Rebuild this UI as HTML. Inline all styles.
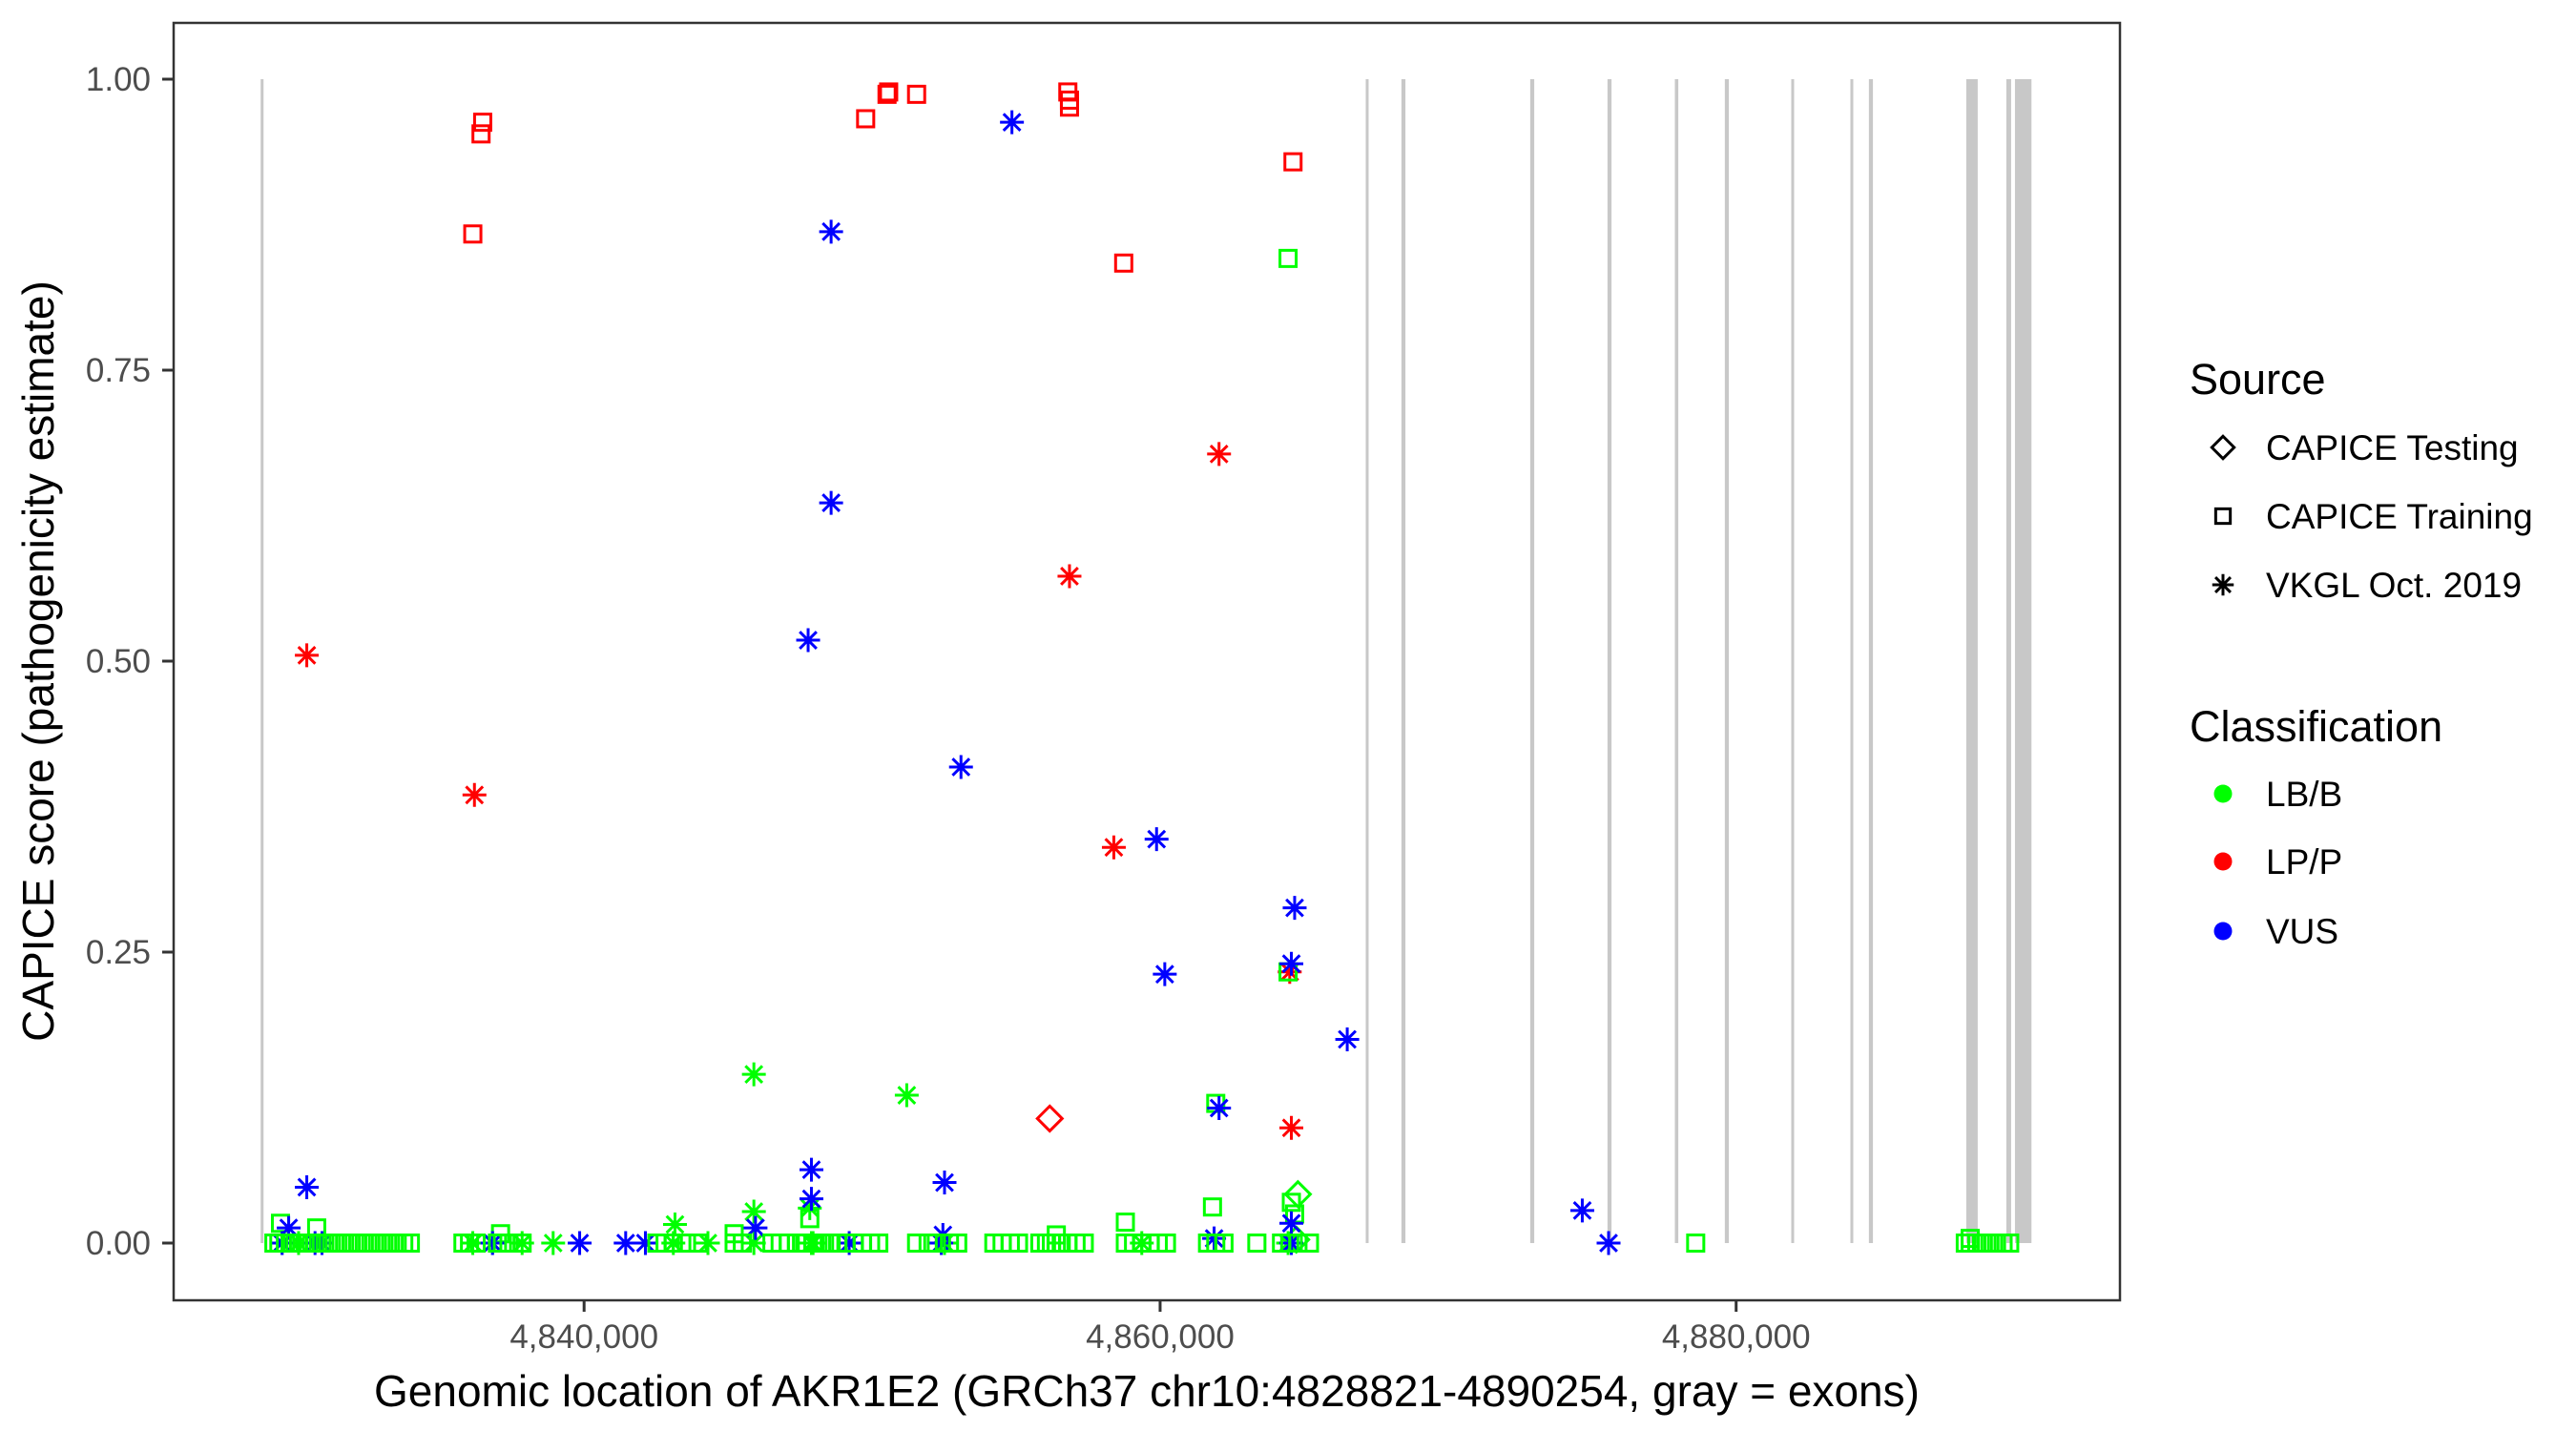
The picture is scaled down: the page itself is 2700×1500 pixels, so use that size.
<!DOCTYPE html>
<html><head><meta charset="utf-8"><style>
html,body{margin:0;padding:0;background:#fff;}
svg{display:block;font-family:"Liberation Sans",Arial,sans-serif;}
</style></head><body>
<svg id="chart" width="2700" height="1500" viewBox="0 0 2700 1500">
<rect x="0" y="0" width="2700" height="1500" fill="#fff"/>
<g id="exons"></g>
<g id="points"></g>
<rect x="182" y="24" width="2040" height="1339" fill="none" stroke="#333" stroke-width="2.5"/>
<g id="axes"></g>
<text x="0" y="0" transform="translate(56,693) rotate(-90)" text-anchor="middle" font-size="46" fill="#000">CAPICE score (pathogenicity estimate)</text>
<text x="1202" y="1474" text-anchor="middle" font-size="46" fill="#000">Genomic location of AKR1E2 (GRCh37 chr10:4828821-4890254, gray = exons)</text>
<g id="legend"></g>
</svg>
<script>
const exonStarts=[4828771,4867139,4868378,4872850,4875533,4877872,4879607,4881913,4883967,4884609,4887990,4889381,4889680];
const exonEnds=[4828871,4867239,4868518,4872990,4875673,4877992,4879747,4882013,4884067,4884749,4888387,4889547,4890254];
const xTicks=[4840000,4860000,4880000];
const xTickLabels=["4,840,000","4,860,000","4,880,000"];
const yTicks=[0,0.25,0.5,0.75,1];
const yTickLabels=["0.00","0.25","0.50","0.75","1.00"];
const pos=[
4836136,4836422,4836479,4849776,4850518,4850575,4851545,4856796,4856853,4856853,4858736,4864614,
4830372,4836193,4862046,4856853,4858393,4864500,4864557,
4856168,
4864785,4864728,
4864443,4864443,4861932,4861818,4858793,4829459,4830715,4837100,4845210,4847836,4856396,4888127,4864557,4864671,
4845895,4851203,4845895,4843156,4847836,4836136,4836821,4837848,4838926,4843099,4844300,4845895,4847893,4847950,4852515,4859364,4864443,4829516,4830087,
4854855,4848577,4848577,4847779,4853086,4859877,4860162,4864671,4864557,4866497,4862046,4852515,4847893,4830372,4847893,4874658,4875571,4864557,4845952,4829744,4829516,4830658,4836821,4839846,4841444,4842129,4849205,4852401,4852458,4861875,4864557,4830900,
4829231,4829402,4829630,4829858,4830087,4830315,4830543,4830772,4831000,4831228,4831456,4831685,4831913,4832141,4832370,4832598,4832826,4833054,4833283,4833511,4833739,4833968,4835794,4836022,4836250,4836992,4837163,4837392,4837848,4842528,4842813,4843099,4843555,4843955,4845210,4845496,4846523,4846808,4847094,4847379,4847550,4847721,4847950,4848121,4848349,4848577,4848806,4849091,4849376,4849662,4849947,4850232,4851545,4851945,4852230,4852686,4852972,4854227,4854513,4854798,4855083,4855825,4856054,4856225,4856396,4856567,4856796,4857081,4857366,4858793,4859078,4859364,4859649,4859934,4860220,4861646,4861932,4862217,4863359,4864215,4864500,4864785,4865185,4878596,4887956,4888127,4888355,4888583,4888812,4889040,4889268,4889497
];
const score=[
0.867,0.953,0.963,0.966,0.987,0.989,0.987,0.989,0.982,0.976,0.842,0.929,
0.505,0.385,0.678,0.573,0.340,0.233,0.099,
0.107,
0.042,0.003,
0.846,0.233,0.120,0.031,0.018,0.017,0.013,0.008,0.008,0.021,0.007,0.004,0.035,0.025,
0.145,0.127,0.027,0.016,0.030,0.0,0.0,0.0,0.0,0.0,0.0,0.0,0.0,0.0,0.0,0.0,0.0,0.0,0.0,
0.963,0.869,0.636,0.518,0.409,0.347,0.231,0.288,0.240,0.175,0.116,0.052,0.063,0.048,0.038,0.028,0.0,0.017,0.013,0.013,0.0,0.0,0.0,0.0,0.0,0.0,0.0,0.0,0.007,0.004,0.0,0.0,
0,0,0,0,0,0,0,0,0,0,0,0,0,0,0,0,0,0,0,0,0,0,0,0,0,0,0,0,0,0,0,0,0,0,0,0,0,0,0,0,0,0,0,0,0,0,0,0,0,0,0,0,0,0,0,0,0,0,0,0,0,0,0,0,0,0,0,0,0,0,0,0,0,0,0,0,0,0,0,0,0,0,0,0,0,0,0,0,0,0,0,0
];
const cls=[
"LP","LP","LP","LP","LP","LP","LP","LP","LP","LP","LP","LP",
"LP","LP","LP","LP","LP","LP","LP",
"LP",
"LB","LB",
"LB","LB","LB","LB","LB","LB","LB","LB","LB","LB","LB","LB","LB","LB",
"LB","LB","LB","LB","LB","LB","LB","LB","LB","LB","LB","LB","LB","LB","LB","LB","LB","LB","LB",
"VUS","VUS","VUS","VUS","VUS","VUS","VUS","VUS","VUS","VUS","VUS","VUS","VUS","VUS","VUS","VUS","VUS","VUS","VUS","VUS","VUS","VUS","VUS","VUS","VUS","VUS","VUS","VUS","VUS","VUS","VUS","VUS"
];
const src=[
"train","train","train","train","train","train","train","train","train","train","train","train",
"vkgl","vkgl","vkgl","vkgl","vkgl","vkgl","vkgl",
"test",
"test","test",
"train","train","train","train","train","train","train","train","train","train","train","train","train","train",
"vkgl","vkgl","vkgl","vkgl","vkgl","vkgl","vkgl","vkgl","vkgl","vkgl","vkgl","vkgl","vkgl","vkgl","vkgl","vkgl","vkgl","vkgl","vkgl",
"vkgl","vkgl","vkgl","vkgl","vkgl","vkgl","vkgl","vkgl","vkgl","vkgl","vkgl","vkgl","vkgl","vkgl","vkgl","vkgl","vkgl","vkgl","vkgl","vkgl","vkgl","vkgl","vkgl","vkgl","vkgl","vkgl","vkgl","vkgl","vkgl","vkgl","vkgl","vkgl"
];
const NS="http://www.w3.org/2000/svg";
const colors={LB:"#00FF00",LP:"#FF0000",VUS:"#0000FF"};
const xmin=4828821-3072, xmax=4890254+3072;
function xs(v){return 182+(v-xmin)/(xmax-xmin)*2040;}
function ys(v){return 1303-v*1220;}
function mk(tag,attrs,parent){const e=document.createElementNS(NS,tag);for(const k in attrs)e.setAttribute(k,attrs[k]);parent.appendChild(e);return e;}
const exG=document.getElementById('exons');
for(let i=0;i<exonStarts.length;i++){
  const x0=xs(exonStarts[i]),x1=xs(exonEnds[i]);
  const r=mk('rect',{x:x0,y:ys(1),width:Math.max(3,x1-x0),height:ys(0)-ys(1),fill:'#c8c8c8'},exG);
  
  
}
const ax=document.getElementById('axes');
for(let i=0;i<yTicks.length;i++){
  const y=ys(yTicks[i]);
  const l=mk('line',{x1:170,x2:182,y1:y,y2:y,stroke:'#333','stroke-width':3},ax);
  
  
  const t=mk('text',{x:158,y:y+12,'text-anchor':'end','font-size':35,fill:'#4d4d4d'},ax);
  t.textContent=yTickLabels[i];
  
  
}
for(let i=0;i<xTicks.length;i++){
  const x=xs(xTicks[i]);
  const l=mk('line',{x1:x,x2:x,y1:1363,y2:1375,stroke:'#333','stroke-width':3},ax);
  
  
  const t=mk('text',{x:x,y:1413,'text-anchor':'middle','font-size':35,fill:'#4d4d4d'},ax);
  t.textContent=xTickLabels[i];
  
  
}
function drawShape(g,shape,x,y,c,s){
  if(shape==='train'){
    mk('rect',{x:x-8.5*s,y:y-8.5*s,width:17*s,height:17*s,fill:'none',stroke:c,'stroke-width':3},g);
  }else if(shape==='test'){
    const h=13*s;
    mk('polygon',{points:`${x},${y-h} ${x+h},${y} ${x},${y+h} ${x-h},${y}`,fill:'none',stroke:c,'stroke-width':3},g);
  }else{
    const r=12.5*s,d=r*0.707;
    mk('path',{d:`M${x},${y-r}V${y+r}M${x-r},${y}H${x+r}M${x-d},${y-d}L${x+d},${y+d}M${x-d},${y+d}L${x+d},${y-d}`,stroke:c,'stroke-width':3,fill:'none'},g);
  }
}
const pg=document.getElementById('points');
const n=Math.min(pos.length,score.length);
for(let i=0;i<n;i++){
  const c=colors[cls[i]||"LB"], s=src[i]||"train";
  const g=mk('g',{},pg);
  
  
  drawShape(g,s,xs(pos[i]),ys(score[i]),c,1);
}
const lg=document.getElementById('legend');
const st=mk('text',{x:2295,y:413,'font-size':45,fill:'#000'},lg);
st.textContent='Source';


const srcItems=[['test','CAPICE Testing',469],['train','CAPICE Training',541],['vkgl','VKGL Oct. 2019',613]];
srcItems.forEach(it=>{
  const g=mk('g',{},lg);
  
  
  drawShape(g,it[0],2330,it[2],'#000',0.9);
  const t=mk('text',{x:2375,y:it[2]+13,'font-size':37,fill:'#000'},g);
  t.textContent=it[1];
});
const ct=mk('text',{x:2295,y:777,'font-size':45,fill:'#000'},lg);
ct.textContent='Classification';


const clsItems=[['LB','LB/B',832],['LP','LP/P',903],['VUS','VUS',976]];
clsItems.forEach(it=>{
  const g=mk('g',{},lg);
  
  
  mk('circle',{cx:2330,cy:it[2],r:9.5,fill:colors[it[0]]},g);
  const t=mk('text',{x:2375,y:it[2]+13,'font-size':37,fill:'#000'},g);
  t.textContent=it[1];
});
</script>
</body></html>
